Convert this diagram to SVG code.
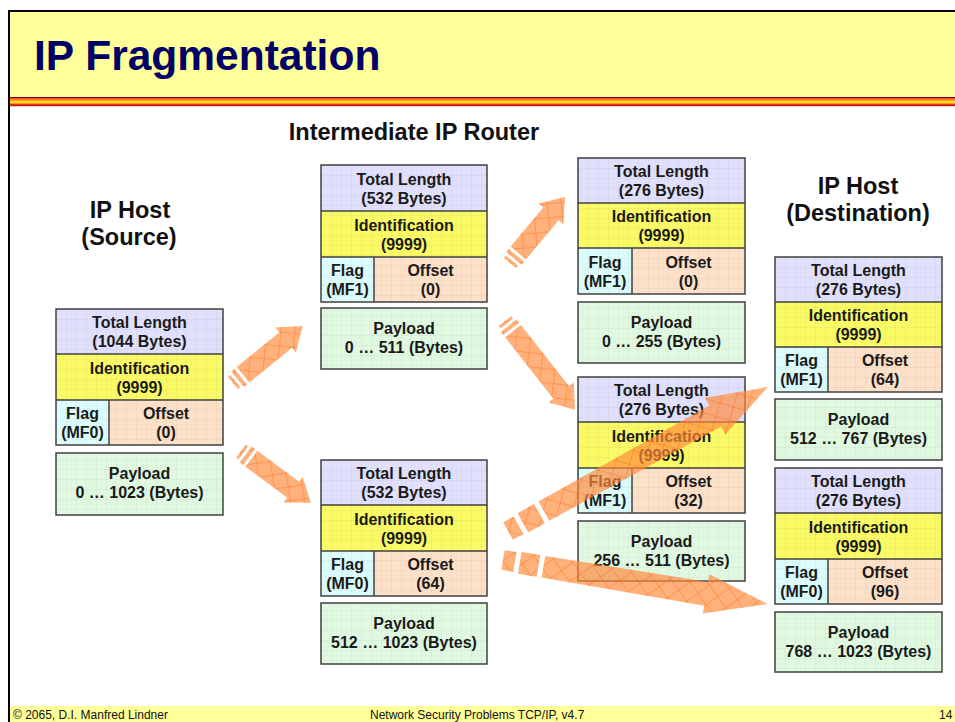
<svg xmlns="http://www.w3.org/2000/svg" width="955" height="722" viewBox="0 0 955 722">
<defs>
<style>
.t{font-family:"Liberation Sans",Arial,sans-serif;font-weight:bold;font-size:16px;text-anchor:middle;fill:#1a1a1a}
.h{font-family:"Liberation Sans",Arial,sans-serif;font-weight:bold;font-size:23.5px;text-anchor:middle;fill:#111}
.f{font-family:"Liberation Sans",Arial,sans-serif;font-size:12px;fill:#111}
.tl{fill:#e0e0fc}
.id{fill:#fafa66}
.fl{fill:#dcfcfc}
.of{fill:#fde0c8}
.pl{fill:#e0f8e0}
.bd{fill:none;stroke:#404040;stroke-width:1.5}
.gr{fill:url(#grid)}
.ar{fill:#ff8a3c;fill-opacity:0.68}
.ah{fill:url(#hatch)}
</style>
<pattern id="grid" width="10" height="10" patternUnits="userSpaceOnUse">
<path d="M10 0H0V10" fill="none" stroke="#000" stroke-opacity="0.07" stroke-width="1"/>
</pattern>
<pattern id="hatch" width="14" height="14" patternUnits="userSpaceOnUse" patternTransform="rotate(45)">
<path d="M0 0H14M0 0V14" fill="none" stroke="#ff6000" stroke-opacity="0.65" stroke-width="1.1"/>
</pattern>
</defs>

<rect x="0" y="0" width="955" height="722" fill="#fff"/>
<!-- title bar -->
<rect x="9" y="11" width="946" height="86" fill="#ffff99"/>
<line x1="8" y1="11" x2="955" y2="11" stroke="#000" stroke-width="2"/>
<line x1="9" y1="10" x2="9" y2="722" stroke="#000" stroke-width="2"/>
<rect x="10" y="97" width="945" height="1.2" fill="#800000"/>
<rect x="10" y="98.2" width="945" height="1.5" fill="#ff2a00"/>
<rect x="10" y="99.7" width="945" height="1.5" fill="#ff9900"/>
<rect x="10" y="101.2" width="945" height="1.5" fill="#ffe000"/>
<rect x="10" y="102.7" width="945" height="1.3" fill="#ff9900"/>
<rect x="10" y="104" width="945" height="1.2" fill="#ff2a00"/>
<rect x="10" y="105.2" width="945" height="1" fill="#800000"/>
<text x="34" y="70" font-family="Liberation Sans, Arial, sans-serif" font-weight="bold" font-size="42.5" fill="#000066">IP Fragmentation</text>

<!-- footer -->
<rect x="10" y="706" width="945" height="16" fill="#ffff99"/>
<text class="f" x="13" y="719">© 2065, D.I. Manfred Lindner</text>
<text class="f" x="370" y="719">Network Security Problems TCP/IP, v4.7</text>
<text class="f" x="939" y="719">14</text>

<!-- headings -->
<text class="h" x="130" y="218">IP Host</text>
<text class="h" x="129" y="245">(Source)</text>
<text class="h" x="414" y="140">Intermediate IP Router</text>
<text class="h" x="858" y="194">IP Host</text>
<text class="h" x="858" y="221">(Destination)</text>

<!-- packets -->
<g id="src" transform="translate(56,309)">
<rect class="tl" x="0" y="0" width="167" height="45"/><rect class="id" x="0" y="45" width="167" height="46"/><rect class="fl" x="0" y="91" width="53" height="45"/><rect class="of" x="53" y="91" width="114" height="45"/><rect class="pl" x="0" y="144" width="167" height="62"/>
<rect class="gr" x="0" y="0" width="167" height="136"/><rect class="gr" x="0" y="144" width="167" height="62"/>
<rect class="bd" x="0" y="0" width="167" height="136"/><path class="bd" d="M0 45H167M0 91H167M53 91V136"/><rect class="bd" x="0" y="144" width="167" height="62"/>
<text class="t" x="83.5" y="19">Total Length</text><text class="t" x="83.5" y="38">(1044 Bytes)</text>
<text class="t" x="83.5" y="65">Identification</text><text class="t" x="83.5" y="84">(9999)</text>
<text class="t" x="26.5" y="110">Flag</text><text class="t" x="26.5" y="129">(MF0)</text>
<text class="t" x="110" y="110">Offset</text><text class="t" x="110" y="129">(0)</text>
<text class="t" x="83.5" y="170">Payload</text><text class="t" x="83.5" y="189">0 … 1023 (Bytes)</text>
</g>

<g id="rtr1" transform="translate(321,165)">
<rect class="tl" x="0" y="0" width="166" height="46"/><rect class="id" x="0" y="46" width="166" height="46"/><rect class="fl" x="0" y="92" width="53" height="45"/><rect class="of" x="53" y="92" width="113" height="45"/><rect class="pl" x="0" y="143" width="166" height="61"/>
<rect class="gr" x="0" y="0" width="166" height="137"/><rect class="gr" x="0" y="143" width="166" height="61"/>
<rect class="bd" x="0" y="0" width="166" height="137"/><path class="bd" d="M0 46H166M0 92H166M53 92V137"/><rect class="bd" x="0" y="143" width="166" height="61"/>
<text class="t" x="83" y="19.5">Total Length</text><text class="t" x="83" y="38.5">(532 Bytes)</text>
<text class="t" x="83" y="65.5">Identification</text><text class="t" x="83" y="84.5">(9999)</text>
<text class="t" x="26.5" y="111">Flag</text><text class="t" x="26.5" y="130">(MF1)</text>
<text class="t" x="109.5" y="111">Offset</text><text class="t" x="109.5" y="130">(0)</text>
<text class="t" x="83" y="169">Payload</text><text class="t" x="83" y="188">0 … 511 (Bytes)</text>
</g>

<g id="rtr2" transform="translate(321,460)">
<rect class="tl" x="0" y="0" width="166" height="45"/><rect class="id" x="0" y="45" width="166" height="46"/><rect class="fl" x="0" y="91" width="53" height="45"/><rect class="of" x="53" y="91" width="113" height="45"/><rect class="pl" x="0" y="143" width="166" height="61"/>
<rect class="gr" x="0" y="0" width="166" height="136"/><rect class="gr" x="0" y="143" width="166" height="61"/>
<rect class="bd" x="0" y="0" width="166" height="136"/><path class="bd" d="M0 45H166M0 91H166M53 91V136"/><rect class="bd" x="0" y="143" width="166" height="61"/>
<text class="t" x="83" y="19">Total Length</text><text class="t" x="83" y="38">(532 Bytes)</text>
<text class="t" x="83" y="65">Identification</text><text class="t" x="83" y="84">(9999)</text>
<text class="t" x="26.5" y="110">Flag</text><text class="t" x="26.5" y="129">(MF0)</text>
<text class="t" x="109.5" y="110">Offset</text><text class="t" x="109.5" y="129">(64)</text>
<text class="t" x="83" y="169">Payload</text><text class="t" x="83" y="188">512 … 1023 (Bytes)</text>
</g>

<g id="mid1" transform="translate(578,158)">
<rect class="tl" x="0" y="0" width="167" height="45"/><rect class="id" x="0" y="45" width="167" height="45"/><rect class="fl" x="0" y="90" width="54" height="46"/><rect class="of" x="54" y="90" width="113" height="46"/><rect class="pl" x="0" y="144" width="167" height="61"/>
<rect class="gr" x="0" y="0" width="167" height="136"/><rect class="gr" x="0" y="144" width="167" height="61"/>
<rect class="bd" x="0" y="0" width="167" height="136"/><path class="bd" d="M0 45H167M0 90H167M54 90V136"/><rect class="bd" x="0" y="144" width="167" height="61"/>
<text class="t" x="83.5" y="19">Total Length</text><text class="t" x="83.5" y="38">(276 Bytes)</text>
<text class="t" x="83.5" y="64">Identification</text><text class="t" x="83.5" y="83">(9999)</text>
<text class="t" x="27" y="110">Flag</text><text class="t" x="27" y="129">(MF1)</text>
<text class="t" x="110.5" y="110">Offset</text><text class="t" x="110.5" y="129">(0)</text>
<text class="t" x="83.5" y="170">Payload</text><text class="t" x="83.5" y="189">0 … 255 (Bytes)</text>
</g>

<g id="mid2" transform="translate(578,377)">
<rect class="tl" x="0" y="0" width="167" height="45"/><rect class="id" x="0" y="45" width="167" height="46"/><rect class="fl" x="0" y="91" width="54" height="45"/><rect class="of" x="54" y="91" width="113" height="45"/><rect class="pl" x="0" y="144" width="167" height="60"/>
<rect class="gr" x="0" y="0" width="167" height="136"/><rect class="gr" x="0" y="144" width="167" height="60"/>
<rect class="bd" x="0" y="0" width="167" height="136"/><path class="bd" d="M0 45H167M0 91H167M54 91V136"/><rect class="bd" x="0" y="144" width="167" height="60"/>
<text class="t" x="83.5" y="19">Total Length</text><text class="t" x="83.5" y="38">(276 Bytes)</text>
<text class="t" x="83.5" y="65">Identification</text><text class="t" x="83.5" y="84">(9999)</text>
<text class="t" x="27" y="110">Flag</text><text class="t" x="27" y="129">(MF1)</text>
<text class="t" x="110.5" y="110">Offset</text><text class="t" x="110.5" y="129">(32)</text>
<text class="t" x="83.5" y="170">Payload</text><text class="t" x="83.5" y="189">256 … 511 (Bytes)</text>
</g>

<g id="dst1" transform="translate(775,257)">
<rect class="tl" x="0" y="0" width="167" height="45"/><rect class="id" x="0" y="45" width="167" height="45"/><rect class="fl" x="0" y="90" width="53" height="45"/><rect class="of" x="53" y="90" width="114" height="45"/><rect class="pl" x="0" y="142" width="167" height="61"/>
<rect class="gr" x="0" y="0" width="167" height="135"/><rect class="gr" x="0" y="142" width="167" height="61"/>
<rect class="bd" x="0" y="0" width="167" height="135"/><path class="bd" d="M0 45H167M0 90H167M53 90V135"/><rect class="bd" x="0" y="142" width="167" height="61"/>
<text class="t" x="83.5" y="19">Total Length</text><text class="t" x="83.5" y="38">(276 Bytes)</text>
<text class="t" x="83.5" y="64">Identification</text><text class="t" x="83.5" y="83">(9999)</text>
<text class="t" x="26.5" y="109">Flag</text><text class="t" x="26.5" y="128">(MF1)</text>
<text class="t" x="110" y="109">Offset</text><text class="t" x="110" y="128">(64)</text>
<text class="t" x="83.5" y="168">Payload</text><text class="t" x="83.5" y="187">512 … 767 (Bytes)</text>
</g>

<g id="dst2" transform="translate(775,468)">
<rect class="tl" x="0" y="0" width="167" height="45"/><rect class="id" x="0" y="45" width="167" height="46"/><rect class="fl" x="0" y="91" width="53" height="45"/><rect class="of" x="53" y="91" width="114" height="45"/><rect class="pl" x="0" y="144" width="167" height="60"/>
<rect class="gr" x="0" y="0" width="167" height="136"/><rect class="gr" x="0" y="144" width="167" height="60"/>
<rect class="bd" x="0" y="0" width="167" height="136"/><path class="bd" d="M0 45H167M0 91H167M53 91V136"/><rect class="bd" x="0" y="144" width="167" height="60"/>
<text class="t" x="83.5" y="19">Total Length</text><text class="t" x="83.5" y="38">(276 Bytes)</text>
<text class="t" x="83.5" y="65">Identification</text><text class="t" x="83.5" y="84">(9999)</text>
<text class="t" x="26.5" y="110">Flag</text><text class="t" x="26.5" y="129">(MF0)</text>
<text class="t" x="110" y="110">Offset</text><text class="t" x="110" y="129">(96)</text>
<text class="t" x="83.5" y="170">Payload</text><text class="t" x="83.5" y="189">768 … 1023 (Bytes)</text>
</g>

<!-- connectors -->
<g id="connectors">
<g id="a1" transform="translate(233,383) rotate(-39.2)">
<g class="ar"><rect x="0" y="-8" width="3" height="16"/><rect x="6" y="-10" width="4" height="20"/><polygon points="13,-10 68,-10 68,-16 90,0 68,16 68,10 13,10"/></g>
<g class="ah"><rect x="0" y="-8" width="3" height="16"/><rect x="6" y="-10" width="4" height="20"/><polygon points="13,-10 68,-10 68,-16 90,0 68,16 68,10 13,10"/></g>
</g>
<g id="a2" transform="translate(241,451) rotate(36.6)">
<g class="ar"><rect x="0" y="-8" width="3" height="16"/><rect x="6" y="-10" width="4" height="20"/><polygon points="13,-10 65,-10 65,-16 87,0 65,16 65,10 13,10"/></g>
<g class="ah"><rect x="0" y="-8" width="3" height="16"/><rect x="6" y="-10" width="4" height="20"/><polygon points="13,-10 65,-10 65,-16 87,0 65,16 65,10 13,10"/></g>
</g>
<g id="a3" transform="translate(510,263) rotate(-50.2)">
<g class="ar"><rect x="0" y="-8" width="3" height="16"/><rect x="6" y="-10" width="4" height="20"/><polygon points="13,-10 64,-10 64,-16 86,0 64,16 64,10 13,10"/></g>
<g class="ah"><rect x="0" y="-8" width="3" height="16"/><rect x="6" y="-10" width="4" height="20"/><polygon points="13,-10 64,-10 64,-16 86,0 64,16 64,10 13,10"/></g>
</g>
<g id="a4" transform="translate(505,321) rotate(51.8)">
<g class="ar"><rect x="0" y="-8" width="3" height="16"/><rect x="6" y="-10" width="4" height="20"/><polygon points="13,-10 91,-10 91,-16 113,0 91,16 91,10 13,10"/></g>
<g class="ah"><rect x="0" y="-8" width="3" height="16"/><rect x="6" y="-10" width="4" height="20"/><polygon points="13,-10 91,-10 91,-16 113,0 91,16 91,10 13,10"/></g>
</g>
<g id="a5" transform="translate(508,531) rotate(-29)">
<g class="ar"><rect x="0" y="-10" width="12" height="20"/><rect x="17" y="-11" width="19" height="22"/><polygon points="41,-11 237,-12 237,-21 297,0 237,21 237,12 41,11"/></g>
<g class="ah"><rect x="0" y="-10" width="12" height="20"/><rect x="17" y="-11" width="19" height="22"/><polygon points="41,-11 237,-12 237,-21 297,0 237,21 237,12 41,11"/></g>
</g>
<g id="a6" transform="translate(503,560) rotate(9.46)">
<g class="ar"><rect x="0" y="-10" width="12" height="20"/><rect x="17" y="-11" width="19" height="22"/><polygon points="41,-11 206,-12 206,-20 268,0 206,20 206,12 41,11"/></g>
<g class="ah"><rect x="0" y="-10" width="12" height="20"/><rect x="17" y="-11" width="19" height="22"/><polygon points="41,-11 206,-12 206,-20 268,0 206,20 206,12 41,11"/></g>
</g>
</g>
</svg>
